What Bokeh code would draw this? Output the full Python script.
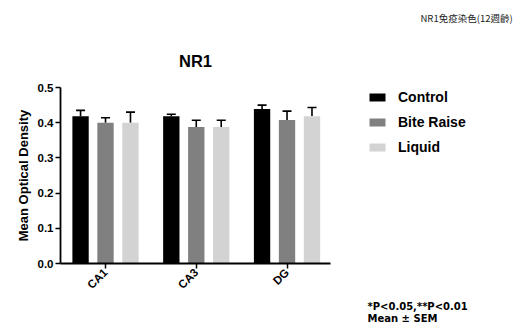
import numpy as np
from bokeh.plotting import figure
from bokeh.models import (Range1d, FixedTicker, Whisker, TeeHead, ColumnDataSource,
                          Legend, LegendItem, Title)
from bokeh.embed import file_html
from bokeh.resources import INLINE

# ---- data ----
regions = ["CA1", "CA3", "DG"]
series = ["Control", "Bite Raise", "Liquid"]
control = [0.418, 0.418, 0.439]
bite_raise = [0.400, 0.388, 0.408]
liquid = [0.400, 0.388, 0.418]
control_sem = [0.017, 0.006, 0.011]
bite_raise_sem = [0.014, 0.019, 0.025]
liquid_sem = [0.030, 0.019, 0.025]
y_ticks = [0.0, 0.1, 0.2, 0.3, 0.4, 0.5]

colors = ["#000000", "#808080", "#d3d3d3"]
values = [control, bite_raise, liquid]
sems = [control_sem, bite_raise_sem, liquid_sem]
offsets = [-0.275, 0.0, 0.275]
bar_w = 0.18

FONT = "Liberation Sans"

p = figure(width=527, height=324, output_backend="svg", toolbar_location=None,
           x_range=Range1d(0.504, 3.479), y_range=Range1d(0, 0.5),
           min_border_left=60, min_border_right=197, min_border_top=87,
           min_border_bottom=61, frame_width=270, frame_height=176)
p.outline_line_color = None
p.grid.visible = False
p.background_fill_color = "white"
p.border_fill_color = "white"

renderers = []
group_x = np.arange(1, len(regions) + 1)
for vals, err, col, off in zip(values, sems, colors, offsets):
    xs = group_x + off
    src = ColumnDataSource(dict(x=xs, top=vals, upper=np.array(vals) + np.array(err)))
    r = p.vbar(x="x", top="top", width=bar_w, source=src, fill_color=col, line_color=None)
    renderers.append(r)
    w = Whisker(source=src, base="x", lower="top", upper="upper", dimension="height",
                line_color="black", line_width=1.6,
                upper_head=TeeHead(size=9, line_color="black", line_width=1.6),
                lower_head=None)
    p.add_layout(w)

# axes
p.xaxis.ticker = FixedTicker(ticks=list(group_x))
p.xaxis.major_label_overrides = {int(i): r for i, r in zip(group_x, regions)}
p.xaxis.major_label_orientation = np.pi / 4
p.yaxis.ticker = FixedTicker(ticks=y_ticks)
p.yaxis.major_label_overrides = {t: f"{t:.1f}" for t in y_ticks}
for ax in (p.xaxis, p.yaxis):
    ax.axis_line_width = 1.8
    ax.axis_line_color = "black"
    ax.major_tick_line_width = 1.5
    ax.major_tick_line_color = "black"
    ax.major_tick_out = 5
    ax.major_tick_in = 0
    ax.minor_tick_line_color = None
    ax.major_label_text_font = FONT
    ax.major_label_text_font_style = "bold"
    ax.major_label_text_font_size = "11.5px"
    ax.major_label_text_color = "black"
    ax.major_label_standoff = 2
p.yaxis.axis_label = "Mean Optical Density"
p.yaxis.axis_label_text_font = FONT
p.yaxis.axis_label_text_font_style = "bold"
p.yaxis.axis_label_text_font_size = "13px"
p.yaxis.axis_label_text_color = "black"
p.yaxis.axis_label_standoff = 4

# corner note as the figure title (outermost in the above panel)
p.title.text = "NR1免疫染色(12週齡)"
p.title.align = "left"
p.title.offset = 360
p.title.standoff = 14
p.title.text_font = "Noto Sans CJK TC"
p.title.text_font_size = "9.5px"
p.title.text_font_style = "normal"
p.title.text_color = "#222222"

# chart heading, next to the frame
p.add_layout(Title(text="NR1", align="center", standoff=36,
                   text_font=FONT, text_font_size="16.5px",
                   text_font_style="bold", text_color="black"), "above")

# footnotes (below the x axis)
p.add_layout(Title(text="*P<0.05,**P<0.01", align="left", offset=307, standoff=0,
                   text_font="DejaVu Sans", text_font_size="10px",
                   text_font_style="bold", text_color="black"), "below")
p.add_layout(Title(text="Mean ± SEM", align="left", offset=307, standoff=-2,
                   text_font="DejaVu Sans", text_font_size="10px",
                   text_font_style="bold", text_color="black"), "below")

# legend in the right panel
items = [LegendItem(label=s, renderers=[r]) for s, r in zip(series, renderers)]
legend = Legend(items=items, location=(37, 108), orientation="vertical",
                glyph_width=20, glyph_height=10, label_standoff=11, spacing=8,
                padding=0, margin=0, border_line_color=None, background_fill_alpha=0,
                label_text_font=FONT, label_text_font_style="bold",
                label_text_font_size="14px", label_height=17, label_text_color="black")
p.add_layout(legend, "right")

open("out.html", "w").write(file_html(p, INLINE))
